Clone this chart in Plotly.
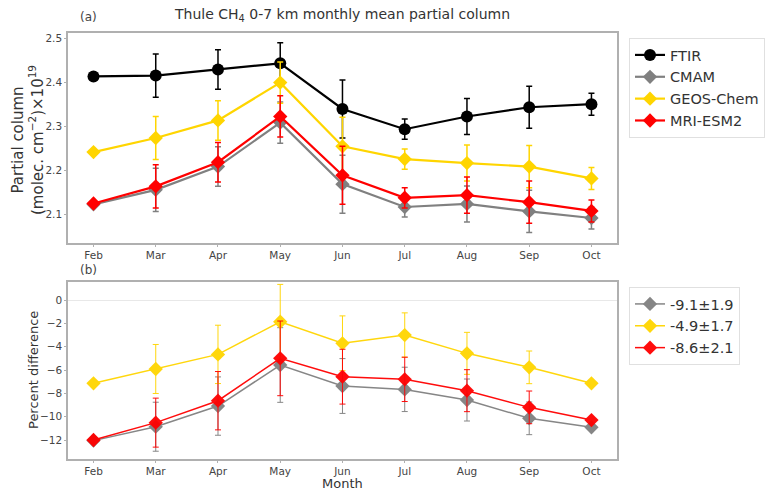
import plotly.graph_objects as go

months = ["Feb", "Mar", "Apr", "May", "Jun", "Jul", "Aug", "Sep", "Oct"]
xpos = list(range(len(months)))

# Partial column, 0-7 km (x 1e19 molec. cm^-2)
ftir = [2.413, 2.415, 2.429, 2.443, 2.339, 2.293, 2.322, 2.343, 2.350]
cmam = [2.122, 2.155, 2.208, 2.308, 2.168, 2.116, 2.123, 2.106, 2.091]
geos = [2.241, 2.273, 2.313, 2.399, 2.254, 2.225, 2.216, 2.208, 2.181]
mri = [2.124, 2.163, 2.218, 2.322, 2.188, 2.137, 2.143, 2.127, 2.107]
col_err = [0.0, 0.049, 0.045, 0.047, 0.066, 0.023, 0.041, 0.048, 0.025]

# Percent difference of each model relative to FTIR
pd_cmam = [-12.05, -10.86, -9.09, -5.57, -7.37, -7.66, -8.57, -10.14, -10.91]
pd_geos = [-7.14, -5.91, -4.66, -1.86, -3.71, -3.00, -4.57, -5.77, -7.14]
pd_mri = [-12.00, -10.51, -8.63, -5.00, -6.57, -6.80, -7.77, -9.20, -10.29]
pd_err = [0.0, 2.1, 2.5, 3.2, 2.35, 1.9, 1.8, 1.4, 0.0]

top_names = ["FTIR", "CMAM", "GEOS-Chem", "MRI-ESM2"]
bottom_names = ["-9.1±1.9", "-4.9±1.7", "-8.6±2.1"]

BLACK, GRAY, GOLD, RED = "#000000", "#808080", "#FFD500", "#FF0000"

fig = go.Figure()

top_series = [(ftir, BLACK, "circle", 12), (cmam, GRAY, "diamond", 11),
              (geos, GOLD, "diamond", 11), (mri, RED, "diamond", 11)]
for name, (vals, c, sym, sz) in zip(top_names, top_series):
    fig.add_trace(go.Scatter(
        x=xpos, y=vals, name=name, mode="lines+markers",
        line=dict(color=c, width=2.2),
        marker=dict(color=c, symbol=sym, size=sz),
        error_y=dict(type="data", array=col_err, color=c, thickness=1.5, width=3),
        xaxis="x", yaxis="y", legend="legend",
    ))

bottom_series = [(pd_cmam, GRAY), (pd_geos, GOLD), (pd_mri, RED)]
for name, (vals, c) in zip(bottom_names, bottom_series):
    fig.add_trace(go.Scatter(
        x=xpos, y=vals, name=name, mode="lines+markers",
        line=dict(color=c, width=1.5),
        marker=dict(color=c, symbol="diamond", size=11),
        error_y=dict(type="data", array=pd_err, color=c, thickness=1, width=3),
        xaxis="x2", yaxis="y2", legend="legend2", opacity=0.95,
    ))

axis_common = dict(showline=True, linecolor="#b0b0b0", linewidth=1.5, mirror=True,
                   ticks="outside", ticklen=2, tickcolor="#b0b0b0",
                   tickfont=dict(family="DejaVu Sans", size=10.5, color="#444"),
                   showgrid=False)

legend_style = dict(xanchor="left", yanchor="top", bgcolor="white",
                    bordercolor="#e0e0e0", borderwidth=1,
                    font=dict(family="DejaVu Sans", size=14.5, color="#333"),
                    tracegroupgap=0, itemwidth=30)

fig.update_layout(
    width=769, height=492,
    margin=dict(l=0, r=0, t=0, b=0),
    paper_bgcolor="white", plot_bgcolor="white",
    showlegend=True,
    xaxis=dict(domain=[0.0884, 0.8023], range=[-0.41, 8.41], anchor="y",
               tickmode="array", tickvals=xpos, ticktext=months,
               zeroline=False, **axis_common),
    yaxis=dict(domain=[0.506, 0.933], range=[2.034, 2.512], anchor="x",
               tickvals=[2.1, 2.2, 2.3, 2.4, 2.5], tickformat=".1f",
               zeroline=False, **axis_common),
    xaxis2=dict(domain=[0.0884, 0.8023], range=[-0.41, 8.41], anchor="y2",
                tickmode="array", tickvals=xpos, ticktext=months,
                zeroline=False, **axis_common),
    yaxis2=dict(domain=[0.067, 0.4274], range=[-13.63, 1.57], anchor="x2",
                tickvals=[0, -2, -4, -6, -8, -10, -12],
                ticktext=["0", "−2", "−4", "−6", "−8", "−10", "−12"],
                zeroline=True, zerolinecolor="#e8e8e8", zerolinewidth=1,
                **axis_common),
    legend=dict(x=629 / 769, y=1 - 38 / 492, **legend_style),
    legend2=dict(x=629 / 769, y=1 - 287 / 492, **legend_style),
)


def label(text, x, y, size, angle=0, color="#333"):
    fig.add_annotation(text=text, xref="paper", yref="paper",
                       x=x / 769, y=1 - y / 492, xanchor="center", yanchor="middle",
                       textangle=angle, showarrow=False,
                       font=dict(family="DejaVu Sans", size=size, color=color))


label("Thule CH<sub>4</sub> 0-7 km monthly mean partial column", 342, 15, 14)
label("(a)", 88, 17, 12, color="#444")
label("(b)", 88, 270, 12, color="#444")
label("Partial column<br>(molec. cm<sup>−2</sup>)×10<sup>19</sup>", 28, 140, 15, angle=-90)
label("Percent difference", 33, 370, 13, angle=-90)
label("Month", 342, 483.5, 13)

fig.write_html("out.html")
